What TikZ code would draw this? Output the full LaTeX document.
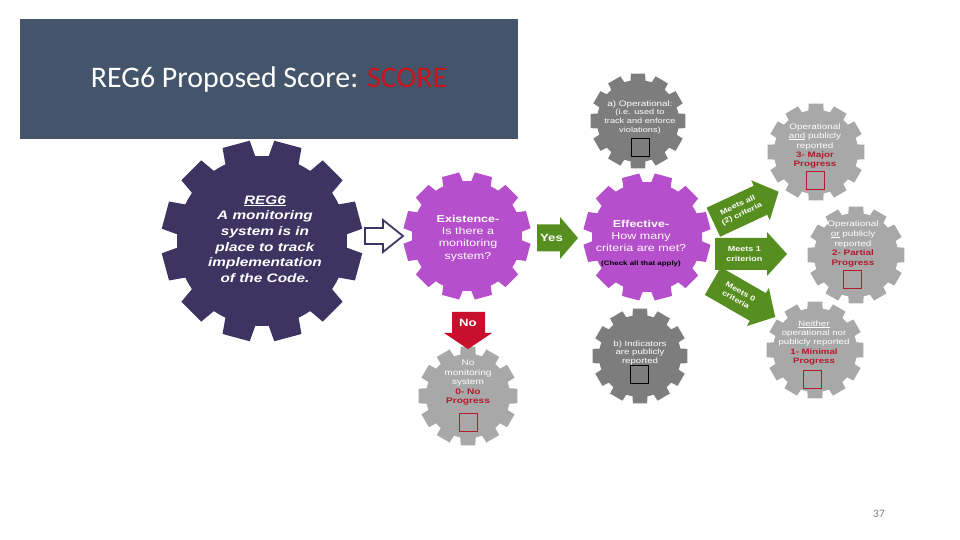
\documentclass[tikz,border=0pt]{standalone}
\usepackage{fontspec}
\setmainfont{Carlito}
\newfontfamily\gf[FakeStretch=1.25]{Liberation Sans}
\usetikzlibrary{calc}
\definecolor{titlebg}{HTML}{44546A}
\definecolor{scorered}{HTML}{C8151B}
\definecolor{darkpurple}{HTML}{3E3462}
\definecolor{gearmag}{HTML}{B54FCB}
\definecolor{gdark}{HTML}{7D7D7D}
\definecolor{glight}{HTML}{A8A8A8}
\definecolor{agreen}{HTML}{568E20}
\definecolor{ared}{HTML}{C8102E}
\definecolor{txtred}{HTML}{B01C2C}
\newsavebox\ulbox
\newcommand\ulin[1]{\sbox\ulbox{#1}\rlap{\rule[-0.12em]{\wd\ulbox}{0.06em}}\usebox\ulbox}
% gear: name, center, rout, rin, offset, colour, tip half angle, root half angle
\newcommand\gear[8]{%
  \coordinate (#1) at #2;
  \fill[#6,shift={#2}] ({#5-#8}:#4)
    \foreach \k in {0,...,11}{
      -- ({#5+30*\k-#8}:#4) -- ({#5+30*\k-#7}:#3) -- ({#5+30*\k+#7}:#3)
      -- ({#5+30*\k+#8}:#4) -- ({#5+30*\k+15}:#4)} -- cycle;
}
% block arrow: name, center, angle, length, body h, head h, head len, colour, text
\newcommand\blkarrow[9]{%
  \begin{scope}[shift={#2},rotate=#3]
    \fill[#8] ({-#4/2},{-#5/2}) -- ({#4/2-#7},{-#5/2}) -- ({#4/2-#7},{-#6/2})
      -- ({#4/2},0) -- ({#4/2-#7},{#6/2}) -- ({#4/2-#7},{#5/2}) -- ({-#4/2},{#5/2}) -- cycle;
    \node[transform shape,atext] (#1) at ({-#7/3},0) {#9};
  \end{scope}}
\begin{document}
\begin{tikzpicture}[x=0.02cm,y=-0.02cm,
  gt/.style={text=white,align=center,inner sep=0pt},
  atext/.style={text=white,align=center,inner sep=0pt,font={\gf\bfseries\fontsize{4.1}{5.4}\selectfont}},
  boxst/.style={draw=#1,line width=0.5pt,minimum size=0.36cm,inner sep=0pt},
  boxst/.default=black]
\useasboundingbox (0,0) rectangle (960,540);
\fill[white] (0,0) rectangle (960,540);
% title
\fill[titlebg] (20,19) rectangle (518,139);
\node[text=white,font={\fontsize{17}{20}\selectfont},inner sep=0pt] (title) at (269,80)
  {REG6 Proposed Score: \textcolor{scorered}{SCORE}};
% gears
\gear{g0}{(262,241)}{101}{85}{15}{darkpurple}{8}{10.5}
\gear{gexist}{(467,236)}{64}{55}{15}{gearmag}{8}{10.5}
\gear{geff}{(647,237)}{64}{55}{15}{gearmag}{8}{10.5}
\gear{ga}{(638,121)}{48}{41}{0}{gdark}{8.5}{10.5}
\gear{gb}{(640,356)}{48}{41}{0}{gdark}{8.5}{10.5}
\gear{g3}{(816,152)}{49}{42}{0}{glight}{8.5}{10.5}
\gear{g2}{(856,255)}{49}{42}{0}{glight}{8.5}{10.5}
\gear{g1}{(815,350)}{49}{42}{0}{glight}{8.5}{10.5}
\gear{gno}{(468,396)}{50}{42}{0}{glight}{8.5}{10.5}
% texts in gears
\node[gt,font={\gf\bfseries\itshape\fontsize{7}{8.9}\selectfont}] (reg6t) at (265,239)
  {\ulin{REG6}\\A monitoring\\system is in\\place to track\\implementation\\of the Code.};
\node[gt,font={\gf\fontsize{5.7}{7}\selectfont}] (existt) at (468,238)
  {\textbf{Existence-}\\Is there a\\monitoring\\system?};
\node[gt,font={\gf\fontsize{5.7}{7}\selectfont}] (efft) at (641,236)
  {\textbf{Effective-}\\How many\\criteria are met?};
\node[gt,text=black,font={\gf\bfseries\fontsize{3.6}{4.5}\selectfont}] (check) at (641,264)
  {(Check all that apply)};
\node[gt,font={\gf\fontsize{4.2}{4.9}\selectfont}] (at) at (640,117)
  {{\fontsize{4.5}{4.9}\selectfont a) Operational:}\\(i.e. used to\\track and enforce\\violations)};
\node[boxst] (abox) at (640,147) {};
\node[gt,font={\gf\fontsize{4.4}{4.9}\selectfont}] (bt) at (640,353)
  {b) Indicators\\are publicly\\reported};
\node[boxst] (bbox) at (639,374) {};
\node[gt,font={\gf\fontsize{4.5}{5.3}\selectfont}] (t3) at (815,146)
  {Operational\\\ulin{and} publicly\\reported\\\textcolor{txtred}{\textbf{3- Major}}\\\textcolor{txtred}{\textbf{Progress}}};
\node[boxst=txtred] (box3) at (815,180) {};
\node[gt,font={\gf\fontsize{4.5}{5.6}\selectfont}] (t2) at (853,244)
  {Operational\\\ulin{or} publicly\\reported\\\textcolor{txtred}{\textbf{2- Partial}}\\\textcolor{txtred}{\textbf{Progress}}};
\node[boxst=txtred] (box2) at (852,279) {};
\node[gt,font={\gf\fontsize{4.4}{5.3}\selectfont}] (t1) at (814,343)
  {\ulin{Neither}\\operational nor\\publicly reported\\\textcolor{txtred}{\textbf{1- Minimal}}\\\textcolor{txtred}{\textbf{Progress}}};
\node[boxst=txtred] (box1) at (812,379) {};
\node[gt,font={\gf\fontsize{4.6}{5.4}\selectfont}] (tno) at (468,383)
  {No\\monitoring\\system\\\textcolor{txtred}{\textbf{0- No}}\\\textcolor{txtred}{\textbf{Progress}}};
\node[boxst=txtred] (boxno) at (468,422) {};
% outline arrow
\draw[darkpurple,line width=1pt,fill=white,line join=miter]
  (365,228) -- (383,228) -- (383,220) -- (403,236) -- (383,252) -- (383,244) -- (365,244) -- cycle;
% yes arrow
\blkarrow{yes}{(557.5,238)}{0}{41}{27}{42}{18}{agreen}{{\fontsize{6}{7}\selectfont Yes}}
% no arrow
\fill[ared] (452,312) -- (485,312) -- (485,333) -- (492,333) -- (468,349) -- (444,333) -- (452,333) -- cycle;
\node[text=white,font={\gf\bfseries\fontsize{6}{7}\selectfont},inner sep=0pt] (no) at (468,323) {No};
% criteria arrows
\blkarrow{m2}{(746,207)}{25}{72}{32}{44}{20}{agreen}{Meets all\\(2) criteria}
\blkarrow{m1}{(751,254)}{0}{72}{32}{44}{20}{agreen}{Meets 1\\criterion}
\blkarrow{m0}{(744,299)}{-30}{72}{32}{44}{20}{agreen}{Meets 0\\criteria}
% page number
\node[text=gray,font={\fontsize{6.5}{7}\selectfont},inner sep=0pt] (pg) at (879,514) {37};
\end{tikzpicture}
\end{document}
